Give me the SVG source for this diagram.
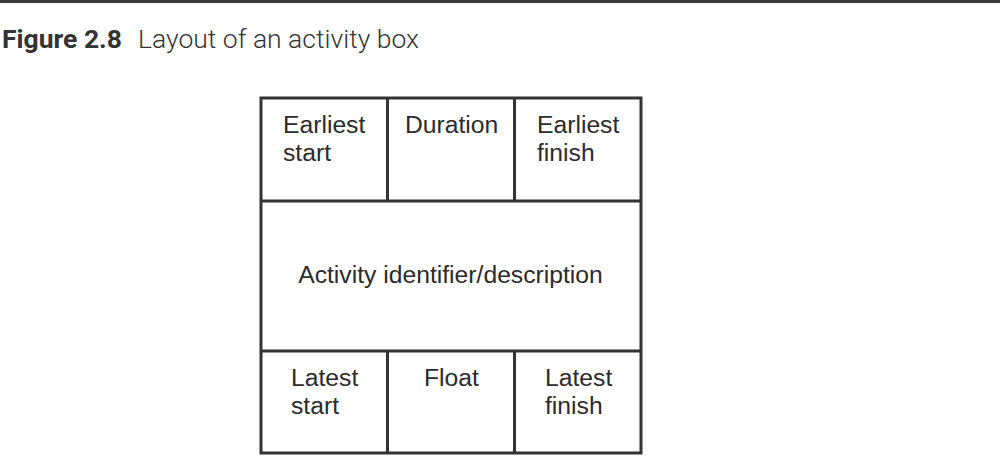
<svg xmlns="http://www.w3.org/2000/svg" width="1000" height="456" viewBox="0 0 1000 456">
<style>
.ln{stroke:#333;stroke-width:3;fill:none}
.t{font-family:"Liberation Sans",Arial,sans-serif;font-size:24.7px;fill:#2b2b2b}
.h{font-family:Roboto,"Liberation Sans",sans-serif;font-size:26.5px;fill:#333}
</style>
<rect width="1000" height="456" fill="#fff"/>
<line x1="0" y1="1.5" x2="1000" y2="1.5" stroke="#3a3a3a" stroke-width="3"/>
<g id="title">
<text class="h" x="2" y="48"><tspan font-weight="bold">Figure 2.8</tspan><tspan x="138" font-weight="300">Layout of an activity box</tspan></text>
</g>
<g id="box">
<rect class="ln" x="261" y="98" width="380" height="355"/>
<line class="ln" x1="261" y1="201" x2="641" y2="201"/>
<line class="ln" x1="261" y1="351" x2="641" y2="351"/>
<line class="ln" x1="387.5" y1="98" x2="387.5" y2="201"/>
<line class="ln" x1="514.5" y1="98" x2="514.5" y2="201"/>
<line class="ln" x1="387.5" y1="351" x2="387.5" y2="453"/>
<line class="ln" x1="514.5" y1="351" x2="514.5" y2="453"/>
</g>
<g id="earliest-start"><text class="t" x="283" y="133">Earliest</text><text class="t" x="283" y="161">start</text></g>
<g id="duration"><text class="t" x="405" y="133">Duration</text></g>
<g id="earliest-finish"><text class="t" x="537" y="133">Earliest</text><text class="t" x="537" y="161">finish</text></g>
<g id="activity"><text class="t" x="450.5" y="283" text-anchor="middle">Activity identifier/description</text></g>
<g id="latest-start"><text class="t" x="291" y="386">Latest</text><text class="t" x="291" y="414">start</text></g>
<g id="float"><text class="t" x="424" y="386">Float</text></g>
<g id="latest-finish"><text class="t" x="545" y="386">Latest</text><text class="t" x="545" y="414">finish</text></g>
<g id="connectors"/>
</svg>
